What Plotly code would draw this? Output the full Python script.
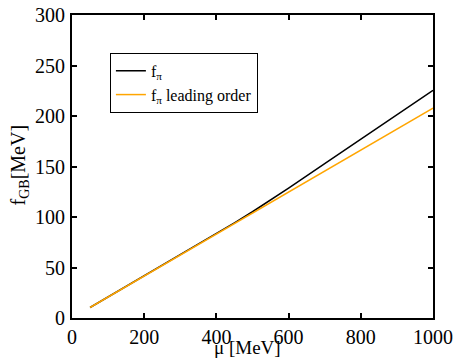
import plotly.graph_objects as go

# chemical potential mu [MeV]
mu = [50, 100, 200, 300, 400, 450, 500, 550, 600, 700, 800, 900, 1000]
# full pion decay constant [MeV]
f_pi = [10.4, 20.8, 41.6, 62.5, 83.5, 94.2, 105.2, 116.7, 128.6, 152.8, 177.3, 201.4, 225.5]
# leading-order result [MeV]
f_pi_lo = [10.4, 20.8, 41.6, 62.4, 83.2, 93.6, 104.0, 114.4, 124.8, 145.6, 166.4, 187.2, 207.8]

x_ticks = [0, 200, 400, 600, 800, 1000]
y_ticks = [0, 50, 100, 150, 200, 250, 300]

font = "Liberation Serif"

fig = go.Figure()
fig.add_trace(go.Scatter(x=mu, y=f_pi, mode="lines", name="f<sub>π</sub>",
                         line=dict(color="black", width=1.5)))
fig.add_trace(go.Scatter(x=mu, y=f_pi_lo, mode="lines", name="f<sub>π</sub> leading order",
                         line=dict(color="#FFA500", width=1.5)))

axis_common = dict(showline=True, linecolor="black", linewidth=2, mirror="ticks",
                   ticks="inside", ticklen=5, tickwidth=1.5, tickcolor="black",
                   showgrid=False, zeroline=False, automargin=False,
                   tickfont=dict(family=font, size=20, color="black"))

fig.update_xaxes(range=[0, 1000], tickvals=x_ticks, **axis_common)
fig.update_yaxes(range=[0, 300], tickvals=y_ticks, ticklabelstandoff=1, **axis_common)

# axis titles
fig.add_annotation(text="μ [MeV]", xref="paper", yref="paper", x=0.487, y=0,
                   yshift=-41, yanchor="bottom", showarrow=False, borderpad=0,
                   font=dict(family=font, size=19, color="black"))
fig.add_annotation(text="f<sub>GB</sub>[MeV]", xref="paper", yref="paper", x=0, y=0.505,
                   xshift=-38, xanchor="right", textangle=-90, showarrow=False,
                   font=dict(family=font, size=20, color="black"))

fig.update_layout(
    width=456, height=359,
    margin=dict(l=72, r=23, t=15, b=41),
    plot_bgcolor="white", paper_bgcolor="white",
    showlegend=True,
    legend=dict(x=0.105, y=0.875, xanchor="left", yanchor="top",
                bgcolor="white", bordercolor="black", borderwidth=1,
                font=dict(family=font, size=16, color="black"),
                tracegroupgap=0, itemwidth=30),
)

fig.write_html("out.html")
